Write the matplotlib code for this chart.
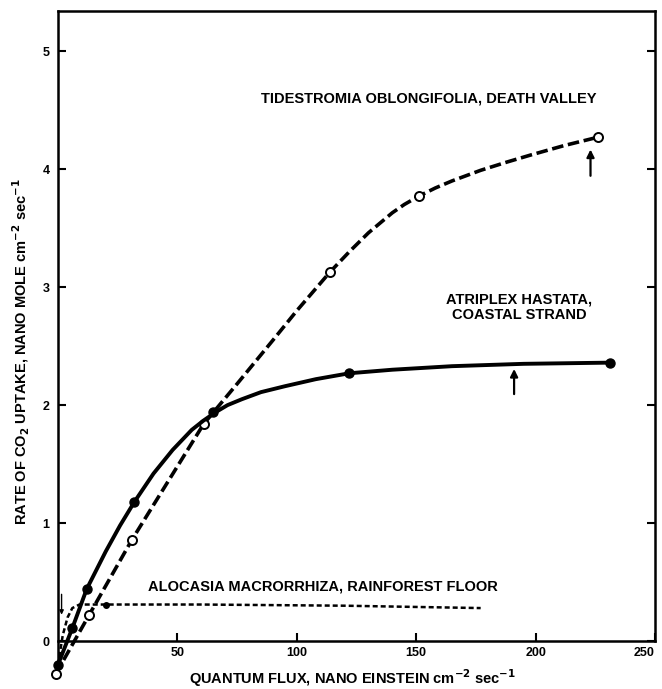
import matplotlib
matplotlib.use("Agg")
import matplotlib.pyplot as plt

plt.rcParams['font.family'] = ['Liberation Sans', 'DejaVu Sans']
plt.rcParams['font.weight'] = 'bold'

# Tidestromia oblongifolia (dashed, open circles)
tide_mx = [-1, 13, 31, 61, 114, 151, 226]
tide_my = [-0.28, 0.22, 0.86, 1.84, 3.13, 3.77, 4.27]
tide_cx = [-1, 13, 31, 61, 75, 90, 100, 114, 122, 130, 140, 145, 151, 158, 165, 177, 188, 198, 212, 226]
tide_cy = [-0.28, 0.22, 0.86, 1.84, 2.18, 2.55, 2.8, 3.13, 3.30, 3.46, 3.63, 3.70, 3.77, 3.84, 3.90, 3.99, 4.06, 4.12, 4.20, 4.27]

# Atriplex hastata (solid, filled circles)
atri_mx = [0, 6, 12, 32, 65, 122, 231]
atri_my = [-0.2, 0.11, 0.44, 1.18, 1.94, 2.27, 2.36]
atri_cx = [0, 6, 12, 20, 26, 32, 40, 48, 56, 61, 66, 71, 77, 85, 95, 108, 122, 140, 165, 195, 231]
atri_cy = [-0.2, 0.11, 0.44, 0.76, 0.98, 1.18, 1.42, 1.62, 1.79, 1.87, 1.94, 2.00, 2.05, 2.11, 2.16, 2.22, 2.27, 2.30, 2.33, 2.35, 2.36]

# Alocasia macrorrhiza (short dashes, filled points)
aloc_mx = [0, 20]
aloc_my = [-0.2, 0.31]
aloc_cx = [0, 2, 4, 6, 9, 20, 60, 120, 177]
aloc_cy = [-0.2, 0.05, 0.2, 0.28, 0.31, 0.31, 0.31, 0.30, 0.28]

xticks = [50, 100, 150, 200, 250]
yticks = [0, 1, 2, 3, 4, 5]

fig = plt.figure(figsize=(6.62, 6.89), dpi=100)
ax = fig.add_axes([0.0876, 0.013, 0.9018, 0.971])

ax.plot(tide_cx, tide_cy, color='black', lw=2.6, dashes=(3.2, 1.3), clip_on=False)
ax.plot(tide_mx, tide_my, 'o', mfc='white', mec='black', mew=1.4, ms=6.5, clip_on=False)

ax.plot(atri_cx, atri_cy, color='black', lw=2.8, clip_on=False)
ax.plot(atri_mx, atri_my, 'o', color='black', ms=6.5, clip_on=False)

ax.plot(aloc_cx, aloc_cy, color='black', lw=1.8, dashes=(2.0, 1.2), clip_on=False)
ax.plot(aloc_mx, aloc_my, 'o', color='black', ms=4, clip_on=False)

# arrows
arrow_kw = dict(arrowstyle='-|>', color='black', lw=1.6, mutation_scale=11)
ax.annotate('', xy=(223, 4.19), xytext=(223, 3.92), arrowprops=arrow_kw)
ax.annotate('', xy=(191, 2.33), xytext=(191, 2.07), arrowprops=arrow_kw)
ax.annotate('', xy=(1.5, 0.2), xytext=(1.5, 0.42),
            arrowprops=dict(arrowstyle='-|>', color='black', lw=1.0, mutation_scale=6))

tfs = 10.5
ax.text(85, 4.60, 'TIDESTROMIA OBLONGIFOLIA, DEATH VALLEY', fontsize=tfs,
        fontweight='bold', va='center', ha='left')
ax.text(193, 2.83, 'ATRIPLEX HASTATA,\nCOASTAL STRAND', fontsize=tfs,
        fontweight='bold', va='center', ha='center', multialignment='center',
        linespacing=1.2)
ax.text(37.7, 0.46, 'ALOCASIA MACRORRHIZA, RAINFOREST FLOOR', fontsize=tfs,
        fontweight='bold', va='center', ha='left')

ax.set_xlim(0, 250)
ax.set_ylim(-0.33, 5.34)
ax.spines['bottom'].set_position(('data', 0))
ax.spines['left'].set_bounds(-0.22, 5.34)
ax.spines['right'].set_bounds(0, 5.34)
for s in ax.spines.values():
    s.set_linewidth(1.8)

ax.set_xticks(xticks)
ax.set_xticklabels([str(v) for v in xticks])
ax.set_yticks(yticks)
ax.set_yticklabels([str(v) for v in yticks])
ax.tick_params(axis='both', direction='in', length=6, width=1.5, labelsize=9)
ax.tick_params(axis='y', right=True, pad=6)
ax.tick_params(axis='x', pad=4)
for lab in ax.get_xticklabels() + ax.get_yticklabels():
    lab.set_fontweight('bold')
ax.get_xticklabels()[-1].set_horizontalalignment('right')

fig.text(0.033, 0.49, 'RATE OF CO$_\\mathbf{2}$ UPTAKE, NANO MOLE cm$^{\\mathbf{-2}}$ sec$^{\\mathbf{-1}}$',
         rotation=90, fontsize=10.5, fontweight='bold', ha='center', va='center')
fig.text(0.532, 0.016, 'QUANTUM FLUX, NANO EINSTEIN cm$^{\\mathbf{-2}}$ sec$^{\\mathbf{-1}}$',
         fontsize=10.5, fontweight='bold', ha='center', va='center')

fig.savefig('out.png', dpi=100)
